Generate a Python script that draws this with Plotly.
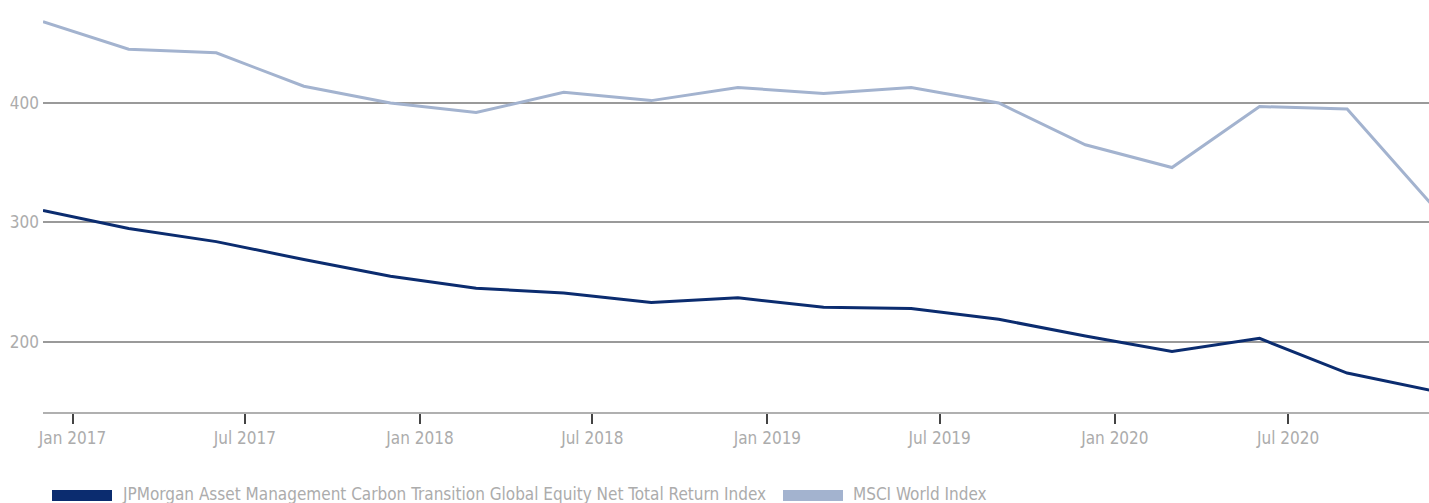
import plotly.graph_objects as go

# Quarterly observation dates
dates = [
    "2016-12-01", "2017-03-01", "2017-06-01", "2017-09-01",
    "2017-12-01", "2018-03-01", "2018-06-01", "2018-09-01",
    "2018-12-01", "2019-03-01", "2019-06-01", "2019-09-01",
    "2019-12-01", "2020-03-01", "2020-06-01", "2020-09-01",
    "2020-12-01",
]

jpm_values = [310, 295, 284, 269, 255, 245, 241, 233, 237, 229, 228, 219,
              205, 192, 203, 174, 159]
msci_values = [468, 445, 442, 414, 400, 392, 409, 402, 413, 408, 413, 400,
               365, 346, 397, 395, 313]

jpm_name = "JPMorgan Asset Management Carbon Transition Global Equity Net Total Return Index"
msci_name = "MSCI World Index"

y_ticks = [200, 300, 400]
x_ticks = ["2017-01-01", "2017-07-01", "2018-01-01", "2018-07-01",
           "2019-01-01", "2019-07-01", "2020-01-01", "2020-07-01"]
x_tick_text = ["Jan 2017", "Jul 2017", "Jan 2018", "Jul 2018",
               "Jan 2019", "Jul 2019", "Jan 2020", "Jul 2020"]

DARK = "#0b2c6f"
LIGHT = "#a3b3cf"
FONT = "Liberation Sans Narrow, DejaVu Sans Condensed, Roboto, sans-serif"
TEXT_GREY = "#acacac"

fig = go.Figure()
fig.add_trace(go.Scatter(x=dates, y=msci_values, mode="lines", name=msci_name,
                         line=dict(color=LIGHT, width=3), showlegend=False))
fig.add_trace(go.Scatter(x=dates, y=jpm_values, mode="lines", name=jpm_name,
                         line=dict(color=DARK, width=3), showlegend=False))

fig.update_layout(
    width=1429, height=503,
    margin=dict(l=43, r=0, t=0, b=91),
    paper_bgcolor="white", plot_bgcolor="white",
    font=dict(family=FONT, size=17, color=TEXT_GREY),
)
fig.update_xaxes(
    range=["2016-12-01", "2020-11-26"],
    tickvals=x_ticks, ticktext=x_tick_text,
    ticks="outside", ticklen=10, tickwidth=2, tickcolor="#444",
    showline=True, linecolor="#b0b0b0", linewidth=2,
    showgrid=False, zeroline=False,
    tickfont=dict(family=FONT, size=17, color=TEXT_GREY),
)
fig.update_yaxes(
    range=[141.4, 486.2],
    tickvals=y_ticks,
    showgrid=True, gridcolor="#9a9a9a", gridwidth=1.5,
    zeroline=False, showline=False, ticks="",
    ticklabelstandoff=3,
    tickfont=dict(family=FONT, size=17, color=TEXT_GREY),
)

# Legend drawn below the axis: swatch rectangles and labels
legend_items = [(jpm_name, DARK, 52), (msci_name, LIGHT, 783)]
plot_h = 503 - 91
for name, color, px in legend_items:
    fig.add_shape(type="rect", xref="paper", yref="paper",
                  x0=(px - 43) / 1386, x1=(px + 60 - 43) / 1386,
                  y0=(plot_h - 501) / plot_h, y1=(plot_h - 490) / plot_h,
                  fillcolor=color, line=dict(width=0))
    fig.add_annotation(text=name, xref="paper", yref="paper",
                       x=(px + 68 - 43) / 1386, y=(plot_h - 494) / plot_h,
                       xanchor="left", yanchor="middle", showarrow=False,
                       font=dict(family=FONT, size=17, color=TEXT_GREY))

fig.write_html("out.html")
